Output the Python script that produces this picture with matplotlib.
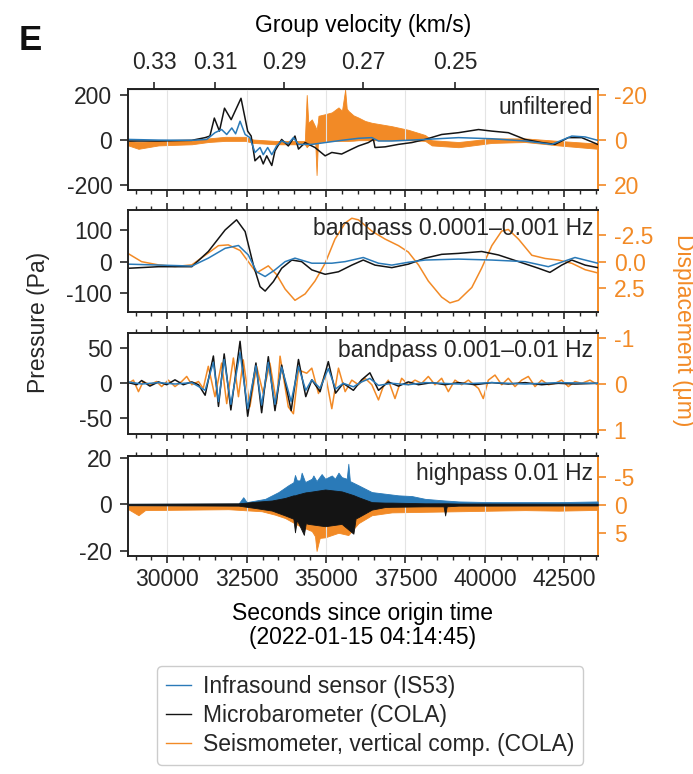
import numpy as np
import matplotlib
matplotlib.use('Agg')
import matplotlib.pyplot as plt
from matplotlib.ticker import MultipleLocator, FormatStrFormatter
from matplotlib.lines import Line2D

plt.rcParams['font.family'] = ['Liberation Sans', 'DejaVu Sans']
plt.rcParams['font.size'] = 16.5
plt.rcParams['axes.unicode_minus'] = False
plt.rcParams['text.color'] = '#262626'
plt.rcParams['xtick.color'] = '#262626'
plt.rcParams['ytick.color'] = '#262626'

C_IS = '#2a7ab8'
C_MB = '#141414'
C_SEIS = '#f28a26'

### Data ###
DIST_KM = 9766.0          # distance used for the group velocity axis
T_MIN, T_MAX = 28770, 43555
VEL_TICKS = [0.33, 0.31, 0.29, 0.27, 0.25]

# panel 1: unfiltered  (time s, pressure Pa) / (time s, disp top, disp bottom)
unf_mb = np.array([[28770, -3], [29720, -3], [30770, 0], [31190, 12], [31340, 19], [31480, 99],
                   [31640, 41], [31800, 143], [32010, 92], [32320, 187], [32530, 41], [32640, 19],
                   [32760, -91], [32920, -69], [33020, -105], [33130, -69], [33290, -112], [33390, -47],
                   [33600, 4], [33810, -25], [34020, 19], [34130, -39], [34340, -10], [34650, -32],
                   [34970, -69], [35180, -54], [35490, -61], [35810, -39], [36020, -25], [36330, -10],
                   [36490, 4], [36540, -32], [36860, -29], [37280, -18], [37700, -10], [38120, 4],
                   [38640, 26], [39170, 34], [39800, 48], [40220, 41], [40740, 34], [41270, 4],
                   [41790, -10], [42210, -18], [42630, 12], [43050, 12], [43555, -18]])
unf_is = np.array([[28770, 4], [29720, 1], [30770, 0], [31240, 4], [31500, 34], [31710, 48],
                   [31870, 26], [32030, 55], [32150, 29], [32290, 85], [32450, 26], [32600, 12],
                   [32760, -54], [32920, -32], [33020, -64], [33160, -32], [33290, -64], [33440, -25],
                   [33600, -3], [33810, -15], [33970, 12], [34130, -18], [34550, -18], [34970, -10],
                   [35490, 0], [36020, 9], [36440, 12], [36650, -3], [37070, -3], [38120, 4],
                   [39170, 12], [40220, 7], [41270, -3], [42110, -18], [42740, 19], [43160, 15],
                   [43555, 0]])
unf_seis = np.array([[28770, 0.3, 2.3], [29090, 0.8, 3.8], [29720, 0.3, 2.3], [30770, 0.0, 1.8],
                     [31290, -0.8, 0.8], [31820, -1.5, 0.3], [32450, -1.5, 0.3], [32710, -0.3, 1.2],
                     [33390, 0.3, 1.8], [34330, 0.3, 1.8], [34390, -20.0, 3.1], [34440, -7.7, 2.3],
                     [34550, -9.2, 1.5], [34660, -6.0, 1.5], [34700, -4.6, 15.4], [34740, -8.0, 2.0],
                     [34760, -10.8, 0.8], [34970, -11.5, 0.5], [35180, -12.3, 0.3], [35390, -14.5, 0.3],
                     [35500, -13.0, 0.3], [35600, -22.3, 0.3], [35650, -14.0, 0.3], [35700, -13.0, 0.3],
                     [35860, -11.0, 0.2], [36020, -10.0, 0.0], [36230, -8.5, 0.0], [36440, -7.7, 0.0],
                     [37070, -6.2, 0.0], [37590, -4.6, 0.0], [38120, -2.3, 0.3], [38330, 0.0, 2.3],
                     [39170, 0.8, 3.1], [40220, -0.8, 1.2], [41270, -0.8, 0.8], [42320, 0.3, 2.3],
                     [43555, 1.5, 3.8]])

# panel 2: bandpass 0.0001-0.001 Hz
bp1_mb = np.array([[28770, -21], [29720, -16], [30770, -16], [31290, 32], [31820, 100], [32180, 132],
                   [32450, 95], [32710, -11], [32920, -79], [33080, -93], [33340, -63], [33600, -21],
                   [33920, 5], [34230, 0], [34550, -26], [34970, -40], [35390, -32], [35810, -11],
                   [36170, 5], [36540, -11], [37070, -19], [37590, -8], [38120, 11], [38640, 23],
                   [39170, 26], [39900, 32], [40430, 21], [41060, 0], [41690, -21], [42050, -34],
                   [42420, -11], [42740, 5], [43160, -11], [43555, -19]])
bp1_is = np.array([[28770, -8], [30770, -14], [31290, 11], [31820, 42], [32240, 51], [32550, 21],
                   [32810, -32], [33080, -47], [33390, -26], [33710, 0], [34020, 11], [34550, -5],
                   [35180, -5], [35600, 0], [36170, 13], [36650, -5], [37070, -11], [37590, -2],
                   [38120, 5], [39170, 8], [40220, 5], [41270, 0], [42000, -16], [42320, -5],
                   [42840, 13], [43555, -5]])
bp1_seis = np.array([[28770, -0.75], [29190, 0.0], [29720, 0.3], [30240, 0.45], [30770, 0.3],
                     [31190, -0.6], [31610, -1.5], [31920, -1.57], [32290, -1.05], [32550, 0.0],
                     [32810, 1.05], [33180, 0.39], [33440, 1.2], [33710, 2.56], [34020, 3.61],
                     [34340, 3.01], [34650, 1.81], [34970, 0.15], [35280, -2.11], [35600, -3.61],
                     [35810, -4.06], [36020, -3.91], [36440, -2.86], [36860, -2.11], [37280, -1.5],
                     [37590, -0.9], [37910, 0.3], [38220, 1.81], [38640, 3.31], [38900, 3.85],
                     [39170, 3.61], [39590, 2.41], [39900, 0.6], [40220, -1.5], [40530, -2.86],
                     [40740, -3.01], [41060, -2.11], [41480, -0.6], [41900, -0.3], [42320, -0.15],
                     [42740, 0.15], [43160, 0.75], [43555, 1.05]])

# panel 3: bandpass 0.001-0.01 Hz
bp2_mb = np.array([[28770, 1], [29040, -2], [29190, 4], [29450, -4], [29720, 2], [29980, -2],
                   [30240, 5], [30500, -2], [30770, 2], [30980, -2], [31190, -17], [31450, 39],
                   [31610, -33], [31790, 42], [32000, -38], [32290, 60], [32530, -47], [32790, 29],
                   [32970, -42], [33180, 38], [33390, -39], [33600, 26], [33900, -39], [34130, 34],
                   [34360, -19], [34550, 5], [34810, -12], [35070, 31], [35300, -14], [35540, 0],
                   [35860, -10], [36120, 5], [36380, 15], [36650, -10], [36960, 2], [37280, -4],
                   [37590, 2], [37910, -2], [38330, 1], [38750, -2], [39170, 1], [39690, -2],
                   [40220, 1], [40740, -1], [41270, 1], [41790, -2], [42320, 0], [42840, -1],
                   [43555, 0]])
bp2_is = np.array([[28770, 2], [29190, -1], [29720, 1], [30240, -1], [30770, 1], [31190, -10],
                   [31450, 30], [31610, -26], [31790, 34], [32000, -30], [32290, 44], [32530, -36],
                   [32790, 25], [32970, -31], [33180, 30], [33390, -30], [33600, 23], [33900, -26],
                   [34130, 24], [34360, -10], [34550, 5], [34810, -7], [35070, 21], [35300, -8],
                   [35540, 0], [35860, -5], [36120, 2], [36380, 7], [36650, -3], [37070, 0],
                   [37590, -2], [38120, 1], [39170, -1], [40220, 1], [41270, -1], [42320, 1],
                   [43555, 0]])
bp2_seis = np.array([[28770, -0.02], [28930, -0.09], [29090, 0.16], [29240, -0.06], [29450, 0.01],
                     [29660, -0.06], [29820, 0.05], [30030, -0.09], [30240, 0.05], [30450, -0.06],
                     [30610, -0.17], [30770, 0.01], [30980, -0.06], [31130, 0.09], [31290, -0.39],
                     [31500, 0.27], [31710, -0.46], [31870, 0.42], [32080, -0.57], [32240, 0.27],
                     [32390, -0.53], [32600, 0.49], [32810, -0.39], [33020, 0.20], [33230, -0.46],
                     [33440, 0.42], [33550, -0.61], [33810, 0.49], [33970, 0.64], [34130, -0.31],
                     [34390, -0.24], [34550, -0.35], [34760, 0.20], [34970, -0.24], [35180, 0.53],
                     [35390, -0.35], [35600, 0.16], [35810, -0.09], [36020, 0.01], [36230, -0.13],
                     [36440, 0.01], [36650, 0.34], [36800, 0.05], [36960, -0.09], [37170, 0.31],
                     [37380, -0.13], [37590, 0.01], [37800, -0.09], [38010, -0.02], [38220, -0.17],
                     [38430, 0.01], [38640, -0.13], [38850, 0.16], [39060, -0.09], [39270, 0.01],
                     [39480, -0.09], [39800, 0.09], [39950, 0.31], [40110, -0.09], [40320, -0.20],
                     [40530, 0.01], [40740, -0.13], [40950, 0.05], [41160, -0.09], [41370, -0.17],
                     [41580, 0.05], [41790, -0.09], [42000, 0.01], [42210, -0.02], [42420, -0.09],
                     [42630, 0.05], [42840, -0.06], [43050, -0.02], [43310, -0.09], [43555, 0.01]])

# panel 4: highpass 0.01 Hz, envelopes of the dense traces
hp_is = np.array([[28770, -0.3, 0.3], [32240, -0.3, 0.3], [32390, -0.3, 3.1], [32500, -0.3, 1.0],
                  [33080, -0.3, 2.4], [33500, -0.3, 5.3], [33810, -0.3, 8.2], [33970, -0.3, 9.5],
                  [34020, -0.3, 12.6], [34080, -0.3, 10.3], [34180, -0.3, 10.3], [34230, -0.3, 13.6],
                  [34340, -0.3, 9.6], [34550, -0.3, 11.0], [34600, -0.3, 12.4], [34700, -0.3, 10.0],
                  [34860, -0.3, 13.0], [34970, -0.3, 11.0], [35180, -0.3, 12.4], [35280, -0.3, 11.0],
                  [35390, -0.3, 13.6], [35490, -0.3, 11.7], [35650, -0.3, 11.0], [35700, -0.3, 17.4],
                  [35750, -0.3, 10.0], [35810, -0.3, 9.6], [36020, -0.3, 8.2], [36440, -0.3, 5.3],
                  [36860, -0.3, 4.6], [37280, -0.3, 3.9], [37700, -0.3, 3.6], [38120, -0.3, 2.4],
                  [38750, -0.3, 1.7], [39170, -0.3, 1.3], [40220, -0.3, 1.0], [41270, -0.3, 1.0],
                  [42320, -0.3, 1.0], [43555, -0.3, 1.3]])
hp_mb = np.array([[28770, -0.3, 0.3], [32240, -0.5, 0.5], [32810, -1.6, 1.2], [33290, -2.6, 1.7],
                  [33710, -4.7, 2.8], [33970, -6.1, 3.9], [34020, -11.9, 3.9], [34080, -6.6, 4.2],
                  [34300, -13.0, 5.0], [34360, -8.0, 5.2], [34440, -8.3, 5.3], [34970, -9.3, 6.4],
                  [35490, -8.3, 5.6], [35860, -12.5, 4.0], [35930, -6.0, 3.6], [36020, -5.4, 3.1],
                  [36440, -2.2, 1.0], [36860, -1.1, 0.8], [37070, -1.0, 0.8], [38120, -0.8, 0.5],
                  [38700, -0.8, 0.5], [38750, -4.7, 0.5], [38800, -0.8, 0.5], [39170, -0.5, 0.4],
                  [43555, -0.4, 0.3]])
hp_seis = np.array([[28770, -0.1, 0.74], [29090, -0.1, 1.8], [29300, -0.1, 0.9], [31920, -0.1, 0.74],
                    [32970, 0.0, 1.1], [33390, 0.2, 1.7], [33710, 0.3, 2.3], [34130, 0.5, 3.6],
                    [34550, 0.8, 4.6], [34650, 0.8, 5.5], [34700, 0.8, 8.1], [34800, 0.8, 5.8],
                    [34970, 0.8, 5.7], [35390, 0.8, 4.9], [35700, 0.8, 5.3], [36020, 0.5, 3.2],
                    [36440, 0.2, 1.8], [37070, 0.0, 1.3], [38120, -0.1, 1.2], [39170, -0.1, 1.1],
                    [40220, -0.1, 1.0], [41270, -0.1, 0.9], [42320, -0.1, 1.0], [43555, -0.1, 0.86]])

titles = ['unfiltered', 'bandpass 0.0001\u20130.001 Hz', 'bandpass 0.001\u20130.01 Hz', 'highpass 0.01 Hz']
p_ticks = [[-200, 0, 200], [-100, 0, 100], [-50, 0, 50], [-20, 0, 20]]
p_lims = [(-221, 227), (-160, 163), (-72.4, 72.3), (-21.9, 20.85)]
d_ticks = [[-20, 0, 20], [-2.5, 0, 2.5], [-1, 0, 1], [-5, 0, 5]]
d_lims = [(22, -22.5), (4.73, -4.83), (1.08, -1.12), (8.94, -8.7)]

### Figure ###
fig = plt.figure(figsize=(6.93, 7.74), dpi=100)
W, H = 693., 774.
left, right = 128.3, 597.7
rows = [(89.3, 190.0), (210.0, 312.3), (332.7, 434.0), (455.7, 555.7)]

axes, twins = [], []
for i, (top, bot) in enumerate(rows):
    ax = fig.add_axes([left / W, 1 - bot / H, (right - left) / W, (bot - top) / H])
    tw = ax.twinx()
    ax.set_zorder(tw.get_zorder() + 1)
    ax.patch.set_visible(False)

    ax.set_xlim(T_MIN, T_MAX)
    ax.xaxis.set_major_locator(MultipleLocator(2500))
    ax.xaxis.set_minor_locator(MultipleLocator(500))
    ax.grid(axis='x', color='#e4e4e4', lw=0.8)
    ax.set_axisbelow(True)
    ax.tick_params(axis='x', which='both', direction='out', bottom=True, top=(i > 0),
                   labelbottom=(i == 3), labeltop=False)
    ax.tick_params(axis='x', which='major', length=5, width=1.2)
    ax.tick_params(axis='x', which='minor', length=3, width=1.0)

    ax.set_ylim(*p_lims[i])
    ax.set_yticks(p_ticks[i])
    ax.tick_params(axis='y', length=5.5, width=1.2, pad=6)
    for s in ['left', 'top', 'bottom']:
        ax.spines[s].set_linewidth(1.4)
        ax.spines[s].set_color('#222222')
    ax.spines['right'].set_visible(False)

    tw.set_ylim(*d_lims[i])
    tw.set_yticks(d_ticks[i])
    if i == 1:
        tw.yaxis.set_major_formatter(FormatStrFormatter('%.1f'))
    tw.tick_params(axis='y', colors=C_SEIS, length=5.5, width=1.2, pad=6)
    tw.spines['right'].set_color(C_SEIS)
    tw.spines['right'].set_linewidth(1.4)
    for s in ['left', 'top', 'bottom']:
        tw.spines[s].set_visible(False)

    ax.text(0.99, 0.935, titles[i], transform=ax.transAxes, ha='right', va='top', zorder=10)
    axes.append(ax)
    twins.append(tw)

# unfiltered
twins[0].fill_between(unf_seis[:, 0], unf_seis[:, 1], unf_seis[:, 2], color=C_SEIS, lw=0.6)
axes[0].plot(unf_mb[:, 0], unf_mb[:, 1], color=C_MB, lw=1.1)
axes[0].plot(unf_is[:, 0], unf_is[:, 1], color=C_IS, lw=1.1)

# long period band
twins[1].plot(bp1_seis[:, 0], bp1_seis[:, 1], color=C_SEIS, lw=1.1)
axes[1].plot(bp1_mb[:, 0], bp1_mb[:, 1], color=C_MB, lw=1.1)
axes[1].plot(bp1_is[:, 0], bp1_is[:, 1], color=C_IS, lw=1.1)

# short period band
twins[2].plot(bp2_seis[:, 0], bp2_seis[:, 1], color=C_SEIS, lw=1.1)
axes[2].plot(bp2_mb[:, 0], bp2_mb[:, 1], color=C_MB, lw=1.1)
axes[2].plot(bp2_is[:, 0], bp2_is[:, 1], color=C_IS, lw=1.1)

# highpass
twins[3].fill_between(hp_seis[:, 0], hp_seis[:, 1], hp_seis[:, 2], color=C_SEIS, lw=0.6)
axes[3].fill_between(hp_is[:, 0], hp_is[:, 1], hp_is[:, 2], color=C_IS, lw=0.6)
axes[3].fill_between(hp_mb[:, 0], hp_mb[:, 1], hp_mb[:, 2], color=C_MB, lw=0.6)

# group velocity on top of the first panel
def t2v(t):
    t = np.asarray(t, dtype=float)
    with np.errstate(divide='ignore'):
        return DIST_KM / t

sec = axes[0].secondary_xaxis('top', functions=(t2v, t2v))
sec.set_xticks(VEL_TICKS)
sec.set_xticklabels(['%.2f' % v for v in VEL_TICKS])
sec.tick_params(length=5, width=1.2, pad=6)
sec.set_xlabel('Group velocity (km/s)', labelpad=14)

axes[3].set_xlabel('Seconds since origin time\n(2022-01-15 04:14:45)', linespacing=1.05, labelpad=8)
fig.text(38 / W, 1 - 322 / H, 'Pressure (Pa)', rotation=90, ha='center', va='center')
fig.text(683 / W, 1 - 330 / H, 'Displacement (\u03bcm)', rotation=270, ha='center', va='center',
         color=C_SEIS)
fig.text(19 / W, 1 - 50 / H, 'E', fontsize=25, fontweight='bold', va='baseline',
         color='#111111')

handles = [Line2D([], [], color=C_IS, lw=1.0), Line2D([], [], color=C_MB, lw=1.0),
           Line2D([], [], color=C_SEIS, lw=1.0)]
labels = ['Infrasound sensor (IS53)', 'Microbarometer (COLA)', 'Seismometer, vertical comp. (COLA)']
fig.legend(handles, labels, loc='upper left', bbox_to_anchor=(157 / W, 1 - 666 / H),
           borderaxespad=0, handlelength=1.1, handletextpad=0.5, labelspacing=0.25,
           borderpad=0.4, fancybox=True, edgecolor='#cccccc', framealpha=1)

plt.savefig('out.png', dpi=100)
